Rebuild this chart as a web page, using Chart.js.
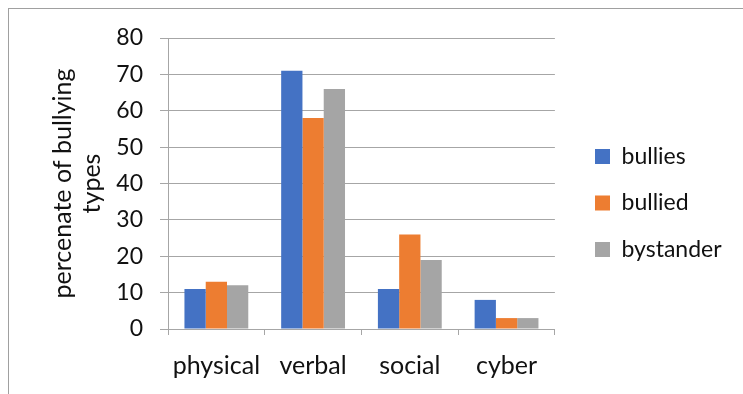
<!DOCTYPE html>
<html>
<head>
<meta charset="utf-8">
<script src="https://cdn.jsdelivr.net/npm/chart.js@4.4.1/dist/chart.umd.min.js"></script>
<style>
  html, body { margin: 0; padding: 0; background: #fff; overflow: hidden; }
  #wrap { position: relative; width: 743px; height: 394px; }
  #frame { position: absolute; left: 8px; top: 8px; width: 800px; height: 500px;
           border: 1.5px solid #a0a0a0; box-sizing: border-box; pointer-events: none; }
  canvas { position: absolute; left: 0; top: 0; }
</style>
</head>
<body>
<div id="wrap">
  <canvas id="chart" width="743" height="394"></canvas>
  <div id="frame"></div>
</div>
<script>
// Bullying types by role (percent)
const categories = ['physical', 'verbal', 'social', 'cyber'];
const bullies    = [11, 71, 11, 8];
const bullied    = [13, 58, 26, 3];
const bystander  = [12, 66, 19, 3];
const yTicks     = [0, 10, 20, 30, 40, 50, 60, 70, 80];
const yTitle     = ['percenate of bullying', 'types'];

const FONT = 'Lato, "Open Sans", sans-serif';
const TEXT = '#111';
const GRID = '#a6a6a6';

// Nudge the legend block so its swatches sit at a fixed column and row.
const legendPlacement = {
  id: 'legendPlacement',
  afterLayout(chart, args, opts) {
    const lg = chart.legend;
    if (!lg) return;
    const pad = lg.options.labels.padding;
    const dx = opts.boxLeft - (lg.left + pad);
    lg.left += dx; lg.right += dx;
    lg.top += opts.dy; lg.bottom += opts.dy;
  }
};

new Chart(document.getElementById('chart'), {
  type: 'bar',
  data: {
    labels: categories,
    datasets: [
      { label: 'bullies',   data: bullies,   backgroundColor: '#4472C4' },
      { label: 'bullied',   data: bullied,   backgroundColor: '#ED7D31' },
      { label: 'bystander', data: bystander, backgroundColor: '#A5A5A5' }
    ]
  },
  plugins: [legendPlacement],
  options: {
    responsive: false,
    animation: false,
    layout: { padding: { left: 0, top: 38, right: 28, bottom: 13 } },
    datasets: { bar: { categoryPercentage: 0.66, barPercentage: 1.0 } },
    plugins: {
      legendPlacement: { boxLeft: 595, dy: -6.5 },
      legend: {
        position: 'right',
        labels: {
          boxWidth: 15, boxHeight: 15, padding: 23.5,
          color: TEXT,
          font: { family: FONT, size: 23 }
        }
      },
      tooltip: { enabled: false }
    },
    scales: {
      x: {
        afterFit: (s) => { s.height = 52; },
        grid: { offset: true, drawOnChartArea: false, drawTicks: true, tickLength: 6, color: GRID, lineWidth: 1 },
        border: { color: GRID, width: 1 },
        ticks: { color: TEXT, font: { family: FONT, size: 25 }, padding: 16, maxRotation: 0 }
      },
      y: {
        min: 0, max: 80,
        afterBuildTicks: (s) => { s.ticks = yTicks.map(v => ({ value: v })); },
        afterFit: (s) => { s.width = 168; },
        grid: { color: GRID, lineWidth: 1, tickLength: 8 },
        border: { color: GRID, width: 1 },
        ticks: { color: TEXT, font: { family: FONT, size: 23 }, padding: 17 },
        title: {
          display: true, text: yTitle, color: TEXT,
          font: { family: FONT, size: 25, lineHeight: 1.16 },
          padding: { top: 48.5, bottom: 0 }
        }
      }
    }
  }
});
</script>
</body>
</html>
